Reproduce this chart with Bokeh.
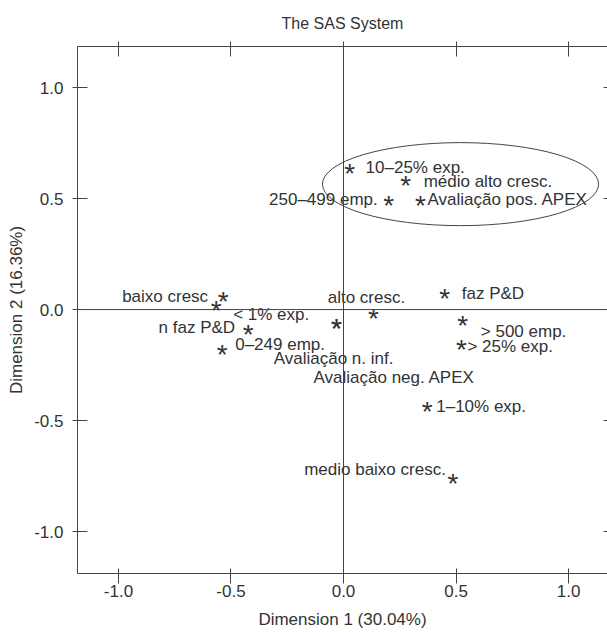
from bokeh.plotting import figure
from bokeh.models import Range1d, FixedTicker, NumeralTickFormatter, LinearAxis, Span, ColumnDataSource
from bokeh.core.properties import value
from bokeh.embed import file_html
from bokeh.resources import INLINE

# ---- data ----
labels = ["10–25% exp.", "médio alto cresc.", "250–499 emp.", "Avaliação pos. APEX",
          "baixo cresc", "< 1% exp.", "n faz P&D", "0–249 emp.",
          "Avaliação n. inf.", "alto cresc.", "faz P&D", "> 500 emp.",
          "> 25% exp.", "Avaliação neg. APEX", "1–10% exp.", "medio baixo cresc."]
dim1 = [0.027, 0.276, 0.201, 0.342,
        -0.535, -0.566, -0.424, -0.539,
        -0.031, 0.133, 0.450, 0.530,
        0.524, -0.031, 0.372, 0.486]
dim2 = [0.634, 0.581, 0.491, 0.491,
        0.059, 0.018, -0.091, -0.182,
        -0.064, -0.019, 0.073, -0.050,
        -0.158, -0.064, -0.437, -0.763]
ticks = [-1.0, -0.5, 0.0, 0.5, 1.0]

# label placement relative to each point (screen pixels)
label_dx = [16, 18, -11, 7, -15, 17, -13, 13, -3, -7, 17, 18, 6, -23, 9, -7]
label_dy = [-1, 1, -1, -1, 0, 9, -2, -5, 35, -16, 0, 11, 2, 54, 0, -9]
label_align = ["left", "left", "right", "left", "right", "left", "right", "left",
               "center", "center", "left", "left", "left", "left", "left", "right"]

# ellipse highlighting a group (data units)
ell_x, ell_y, ell_w, ell_h = 0.52, 0.565, 1.227, 0.374

TXT = "#333333"
LN = "#444444"
FONT = "Liberation Sans"
FS = "17px"

src = ColumnDataSource(dict(x=dim1, y=dim2, label=labels, dx=label_dx, dy=label_dy,
                            align=label_align, star=["*"] * len(labels)))

p = figure(width=607, height=633, x_range=Range1d(-1.182, 1.173), y_range=Range1d(-1.189, 1.185),
           output_backend="svg", toolbar_location=None,
           min_border_left=77, min_border_right=0, min_border_top=46, min_border_bottom=60,
           title="The SAS System", x_axis_location=None, y_axis_location=None)
p.grid.visible = False
p.outline_line_color = None
p.background_fill_color = "white"
p.border_fill_color = "white"

p.title.align = "center"
p.title.text_font = FONT
p.title.text_font_size = "16px"
p.title.text_font_style = "normal"
p.title.text_color = TXT
p.title.standoff = 19

fmt = NumeralTickFormatter(format="0.0")


def style(ax, tin, tout, labels_on=True):
    ax.ticker = FixedTicker(ticks=ticks)
    ax.formatter = fmt
    ax.major_tick_in = tin
    ax.major_tick_out = tout
    ax.minor_tick_line_color = None
    ax.major_tick_line_color = LN
    ax.axis_line_color = LN
    ax.major_label_text_font = FONT
    ax.major_label_text_font_size = FS
    ax.major_label_text_color = TXT
    ax.axis_label_text_font = FONT
    ax.axis_label_text_font_size = FS
    ax.axis_label_text_font_style = "normal"
    ax.axis_label_text_color = TXT
    if not labels_on:
        ax.major_label_overrides = {t: "" for t in ticks}
        ax.major_label_standoff = 0


bottom = LinearAxis(axis_label="Dimension 1 (30.04%)")
style(bottom, 5, 10)
bottom.major_label_standoff = 1
bottom.axis_label_standoff = 10
p.add_layout(bottom, "below")

left = LinearAxis(axis_label="Dimension 2 (16.36%)")
style(left, 10, 5)
left.major_label_standoff = 9
left.axis_label_standoff = 5
p.add_layout(left, "left")

top = LinearAxis()
style(top, 10, 5, labels_on=False)
p.add_layout(top, "above")

right = LinearAxis()
style(right, 4, 0, labels_on=False)
right.axis_line_color = None
p.add_layout(right, "right")

p.add_layout(Span(location=0, dimension="height", line_color=LN, line_width=1))
p.add_layout(Span(location=0, dimension="width", line_color=LN, line_width=1))

p.ellipse(x=ell_x, y=ell_y, width=ell_w, height=ell_h, fill_color=None, line_color=LN, line_width=1)

p.text(x="x", y="y", text="star", source=src, text_font=value(FONT), text_font_size="28px",
       text_align="center", text_baseline="alphabetic", y_offset=5, text_color=TXT)
p.text(x="x", y="y", text="label", source=src, x_offset="dx", y_offset="dy", text_align="align",
       text_baseline="alphabetic", text_font=value(FONT), text_font_size=FS, text_color=TXT)

open("out.html", "w").write(file_html(p, INLINE))
